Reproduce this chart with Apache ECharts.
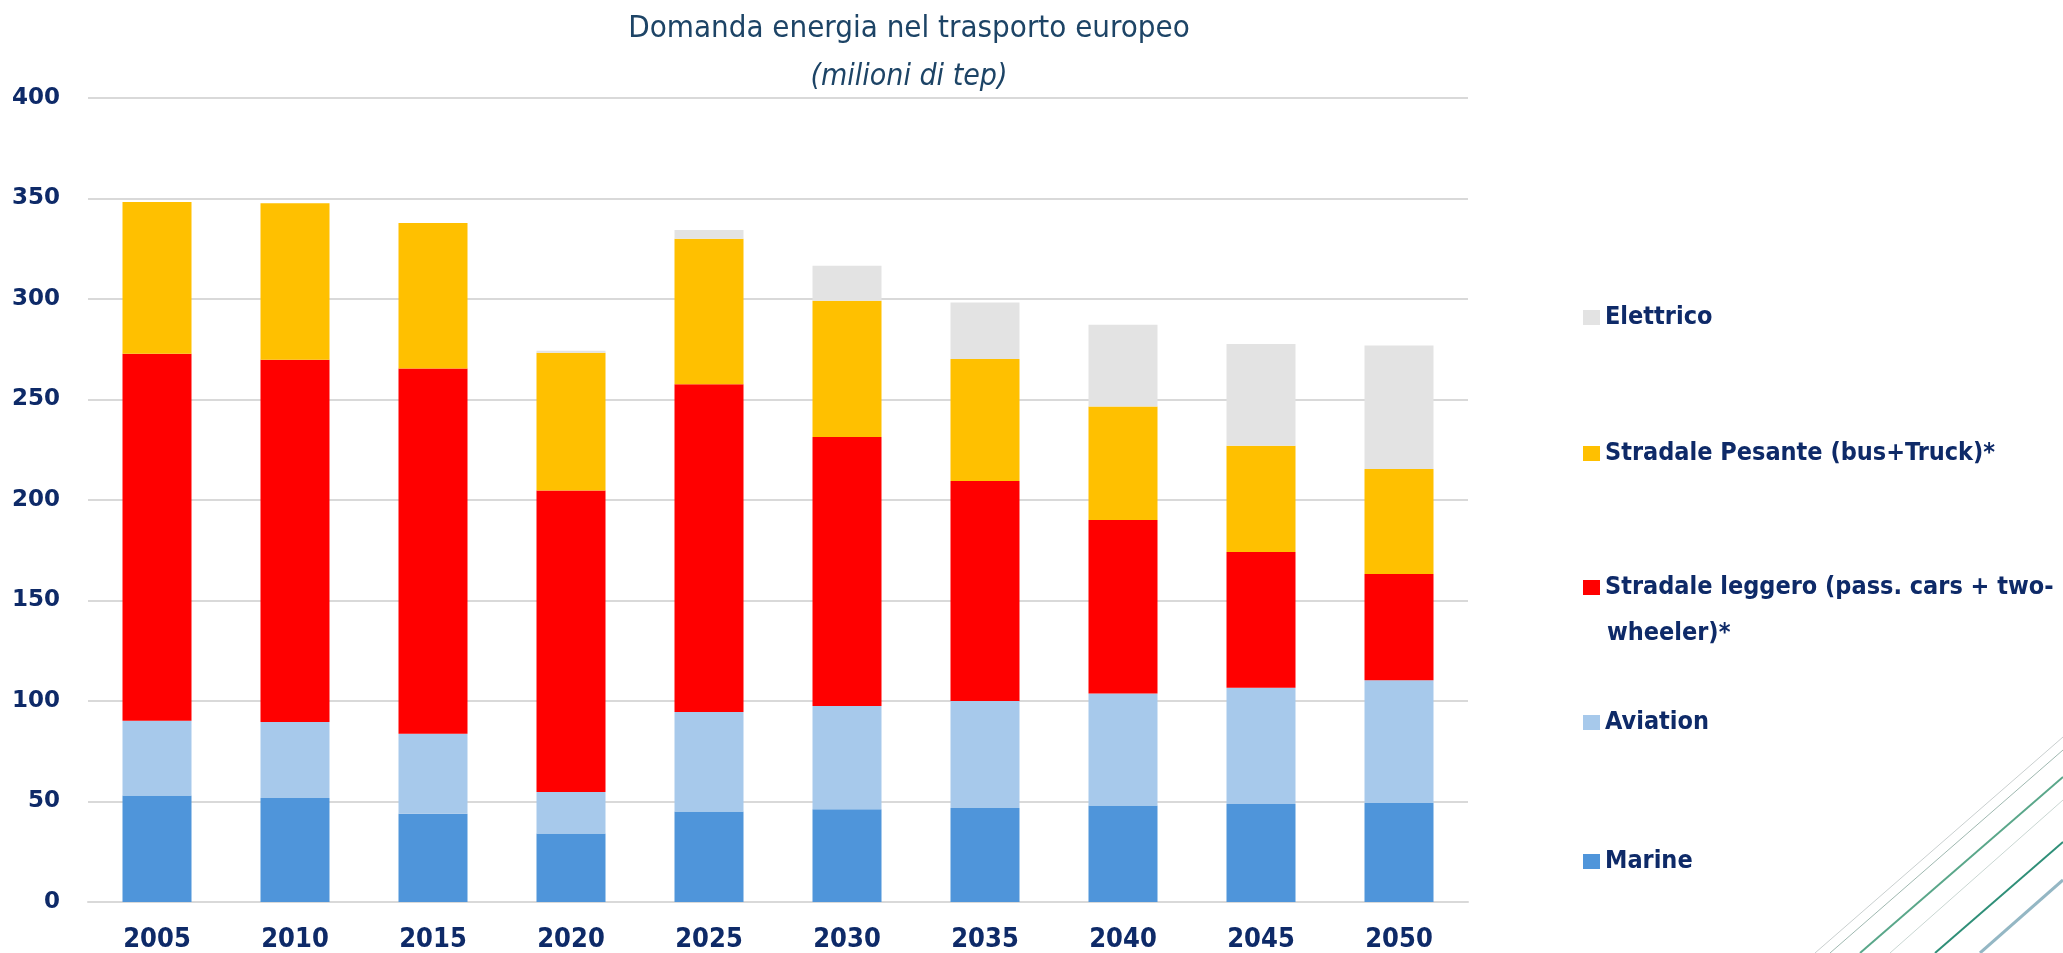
<!DOCTYPE html>
<html>
<head>
<meta charset="utf-8">
<script src="https://cdn.jsdelivr.net/npm/echarts@6/dist/echarts.min.js"></script>
<style>
  html, body { margin:0; padding:0; background:#fff; }
  #chart { width:2063px; height:953px; }
</style>
</head>
<body>
<div id="chart"></div>
<script>
var years = ['2005','2010','2015','2020','2025','2030','2035','2040','2045','2050'];
var marine = [53, 51.7, 43.9, 34.1, 45, 46.2, 46.8, 48, 48.7, 49.3];
var aviation = [37.2, 37.8, 39.8, 20.6, 49.5, 51.3, 53.2, 55.7, 57.9, 61.0];
var leggero = [182.6, 180.3, 181.7, 150.0, 163.1, 133.8, 109.5, 86.3, 67.5, 52.9];
var pesante = [75.4, 77.8, 72.4, 68.6, 72.4, 67.8, 60.7, 56.5, 52.9, 52.2];
var elettrico = [0, 0, 0, 1.0, 4.3, 17.4, 28.1, 40.7, 50.6, 61.5];
var yTicks = [0, 50, 100, 150, 200, 250, 300, 350, 400];

var NAMES = ['Marine', 'Aviation', 'Stradale leggero (pass. cars + two-wheeler)*', 'Stradale Pesante (bus+Truck)*', 'Elettrico'];
var COLORS = ['#4F95DA', '#A7C9EB', '#FF0000', '#FFC000', '#E3E3E3'];
var navy = '#0E2A68';
var narrow = '"Liberation Sans Narrow", "DejaVu Sans Condensed", sans-serif';

(function(){
  var chart = echarts.init(document.getElementById('chart'), null, {renderer:'canvas'});
  var values = [marine, aviation, leggero, pesante, elettrico];
  var series = values.map(function(v, i){
    return {
      name: NAMES[i], type:'bar', stack:'tot', data:v, barWidth:'50%',
      itemStyle:{color:COLORS[i]}
    };
  });
  var legendText = {color:navy, fontSize:25, fontWeight:'bold', fontFamily:narrow};
  // one legend block per item, top-down: Elettrico first
  var legendTops = [844, 705, 570, 436, 300];
  var legends = NAMES.map(function(n, i){
    return {
      data:[n], orient:'vertical', left:1578, top:legendTops[i],
      itemWidth:17, itemHeight:15, icon:'rect', itemGap:8,
      selectedMode:false,
      formatter:function(s){ return s.replace('wheeler)*', ''); },
      textStyle:legendText
    };
  });
  var deco = [{type:'text', left:1607, top:621, silent:true,
    style:{text:'wheeler)*', fill:navy, font:'bold 25px ' + narrow}}];
  var lines = [[1815,953,2063,737,'#c9cfcf',1],[1830,953,2063,750,'#9fb8b0',1],[1860,953,2063,777,'#5aa78a',2],
               [1890,953,2063,800,'#c9d6d2',1],[1935,953,2063,842,'#2f8f78',2],[1980,953,2063,880,'#94b7c4',3]];
  lines.forEach(function(l){
    deco.push({type:'line', shape:{x1:l[0],y1:l[1],x2:l[2],y2:l[3]}, style:{stroke:l[4], lineWidth:l[5]}, silent:true});
  });
  chart.setOption({
    animation:false,
    title:{
      text:'Domanda energia nel trasporto europeo',
      subtext:'(milioni di tep)',
      left:904, top:8, textAlign:'center', itemGap:18,
      textStyle:{color:'#1D4466', fontSize:31, fontWeight:'normal', fontFamily:narrow},
      subtextStyle:{color:'#1D4466', fontSize:30, fontStyle:'italic', fontFamily:narrow}
    },
    legend:legends,
    grid:{left:88, right:595, top:98, bottom:48},
    xAxis:{
      type:'category', data:years,
      axisLine:{lineStyle:{color:'#D9D9D9', width:2}},
      axisTick:{show:false},
      axisLabel:{color:navy, fontSize:27, fontWeight:'bold', fontFamily:narrow, margin:24}
    },
    yAxis:{
      type:'value', min:0, max:400, interval:50,
      axisLine:{show:false}, axisTick:{show:false},
      axisLabel:{color:navy, fontSize:23, fontWeight:'bold', fontFamily:'"DejaVu Sans", sans-serif', margin:28,
        formatter:function(v){ return yTicks.indexOf(v) >= 0 ? String(v) : ''; }},
      splitLine:{lineStyle:{color:'#D9D9D9', width:2}}
    },
    graphic:deco,
    series:series
  });
})();
</script>
</body>
</html>
